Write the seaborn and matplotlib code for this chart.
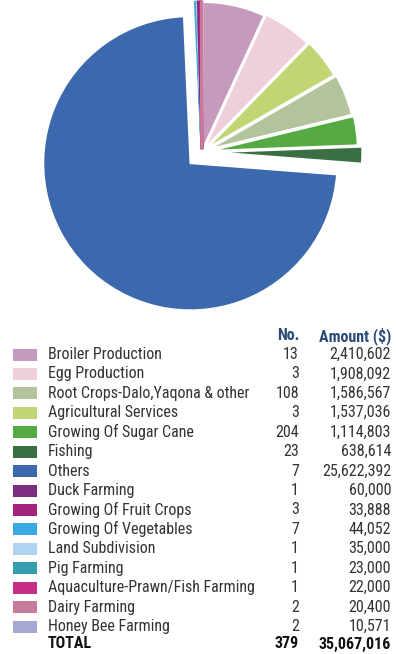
import numpy as np
import matplotlib.pyplot as plt
import seaborn as sns
from matplotlib.patches import Rectangle

sns.set_theme(style='white')
plt.rcParams['font.family'] = ['Roboto Condensed', 'DejaVu Sans']

# legend / table data (in table order)
categories = ['Broiler Production', 'Egg Production', 'Root Crops-Dalo,Yaqona & other',
              'Agricultural Services', 'Growing Of Sugar Cane', 'Fishing', 'Others',
              'Duck Farming', 'Growing Of Fruit Crops', 'Growing Of Vegetables',
              'Land Subdivision', 'Pig Farming', 'Aquaculture-Prawn/Fish Farming',
              'Dairy Farming', 'Honey Bee Farming']
counts = [13, 3, 108, 3, 204, 23, 7, 1, 3, 7, 1, 1, 1, 2, 2]
amounts = [2410602, 1908092, 1586567, 1537036, 1114803, 638614, 25622392,
           60000, 33888, 44052, 35000, 23000, 22000, 20400, 10571]
colors = ['#C59ABD', '#EFCFDC', '#B3C49C', '#C0D674', '#55AA44', '#3A6F44', '#3C69AD',
          '#7B2D80', '#A3237D', '#3AA8E4', '#AED4F2', '#349DB0', '#C62F86',
          '#C87A9C', '#A5A8D0']
total_count = 379
total_amount = 35067016

# order of slices clockwise from 12 o'clock
pie_order = ['Broiler Production', 'Egg Production', 'Agricultural Services',
             'Root Crops-Dalo,Yaqona & other', 'Growing Of Sugar Cane', 'Fishing', 'Others',
             'Growing Of Vegetables', 'Pig Farming', 'Land Subdivision', 'Honey Bee Farming',
             'Duck Farming', 'Growing Of Fruit Crops', 'Aquaculture-Prawn/Fish Farming',
             'Dairy Farming']
small = ['Duck Farming', 'Growing Of Fruit Crops', 'Growing Of Vegetables', 'Land Subdivision',
         'Pig Farming', 'Aquaculture-Prawn/Fish Farming', 'Dairy Farming', 'Honey Bee Farming']
explode_map = {'Broiler Production': 0.02, 'Egg Production': 0.03,
               'Agricultural Services': 0.04, 'Root Crops-Dalo,Yaqona & other': 0.05,
               'Growing Of Sugar Cane': 0.06, 'Fishing': 0.09, 'Others': 0.11}

idx = [categories.index(c) for c in pie_order]
pie_vals = [amounts[i] for i in idx]
pie_cols = [colors[i] for i in idx]
pie_expl = [explode_map.get(c, 0.02) for c in pie_order]

W, H = 396, 654
fig = plt.figure(figsize=(W / 100, H / 100), dpi=100)

# pie
R = 147.0
cx, cy = 202, 152
pie_h = 330
ax = fig.add_axes([0, 1 - pie_h / H, 1, pie_h / H])
wedges, _ = ax.pie(pie_vals, colors=pie_cols, startangle=90, counterclock=False,
                   explode=pie_expl,
                   wedgeprops=dict(edgecolor='white', linewidth=1.3))
for w, c in zip(wedges, pie_order):
    if c in small:
        w.set_edgecolor(w.get_facecolor())
        w.set_linewidth(2.0)
ax.set_xlim(-cx / R, (W - cx) / R)
ax.set_ylim(-(pie_h - cy) / R, cy / R)
ax.set_aspect('equal')
ax.axis('off')

# table
tab = fig.add_axes([0, 0, 1, 1])
tab.set_xlim(0, W)
tab.set_ylim(H, 0)
tab.axis('off')

fs = 11.5
head_col = '#2B4A78'
txt_col = '#333333'
tab.text(299, 336, 'No.', ha='right', va='center', fontsize=fs, fontweight='bold', color=head_col)
tab.text(391, 336, 'Amount ($)', ha='right', va='center', fontsize=fs, fontweight='bold', color=head_col)

y0, dy = 354.5, 19.43
for i, (cat, n, amt, col) in enumerate(zip(categories, counts, amounts, colors)):
    y = y0 + i * dy
    tab.add_patch(Rectangle((13, y - 6), 24, 12, facecolor=col, edgecolor='none'))
    tab.text(48, y, cat, ha='left', va='center', fontsize=fs, color=txt_col)
    tab.text(299, y, f'{n}', ha='right', va='center', fontsize=fs, color=txt_col)
    tab.text(391, y, f'{amt:,}', ha='right', va='center', fontsize=fs, color=txt_col)

yt = 644
tab.text(48, yt, 'TOTAL', ha='left', va='center', fontsize=fs, fontweight='bold', color='#111111')
tab.text(299, yt, f'{total_count}', ha='right', va='center', fontsize=fs, fontweight='bold', color='#111111')
tab.text(391, yt, f'{total_amount:,}', ha='right', va='center', fontsize=fs, fontweight='bold', color='#111111')

fig.savefig('out.png', dpi=100)
